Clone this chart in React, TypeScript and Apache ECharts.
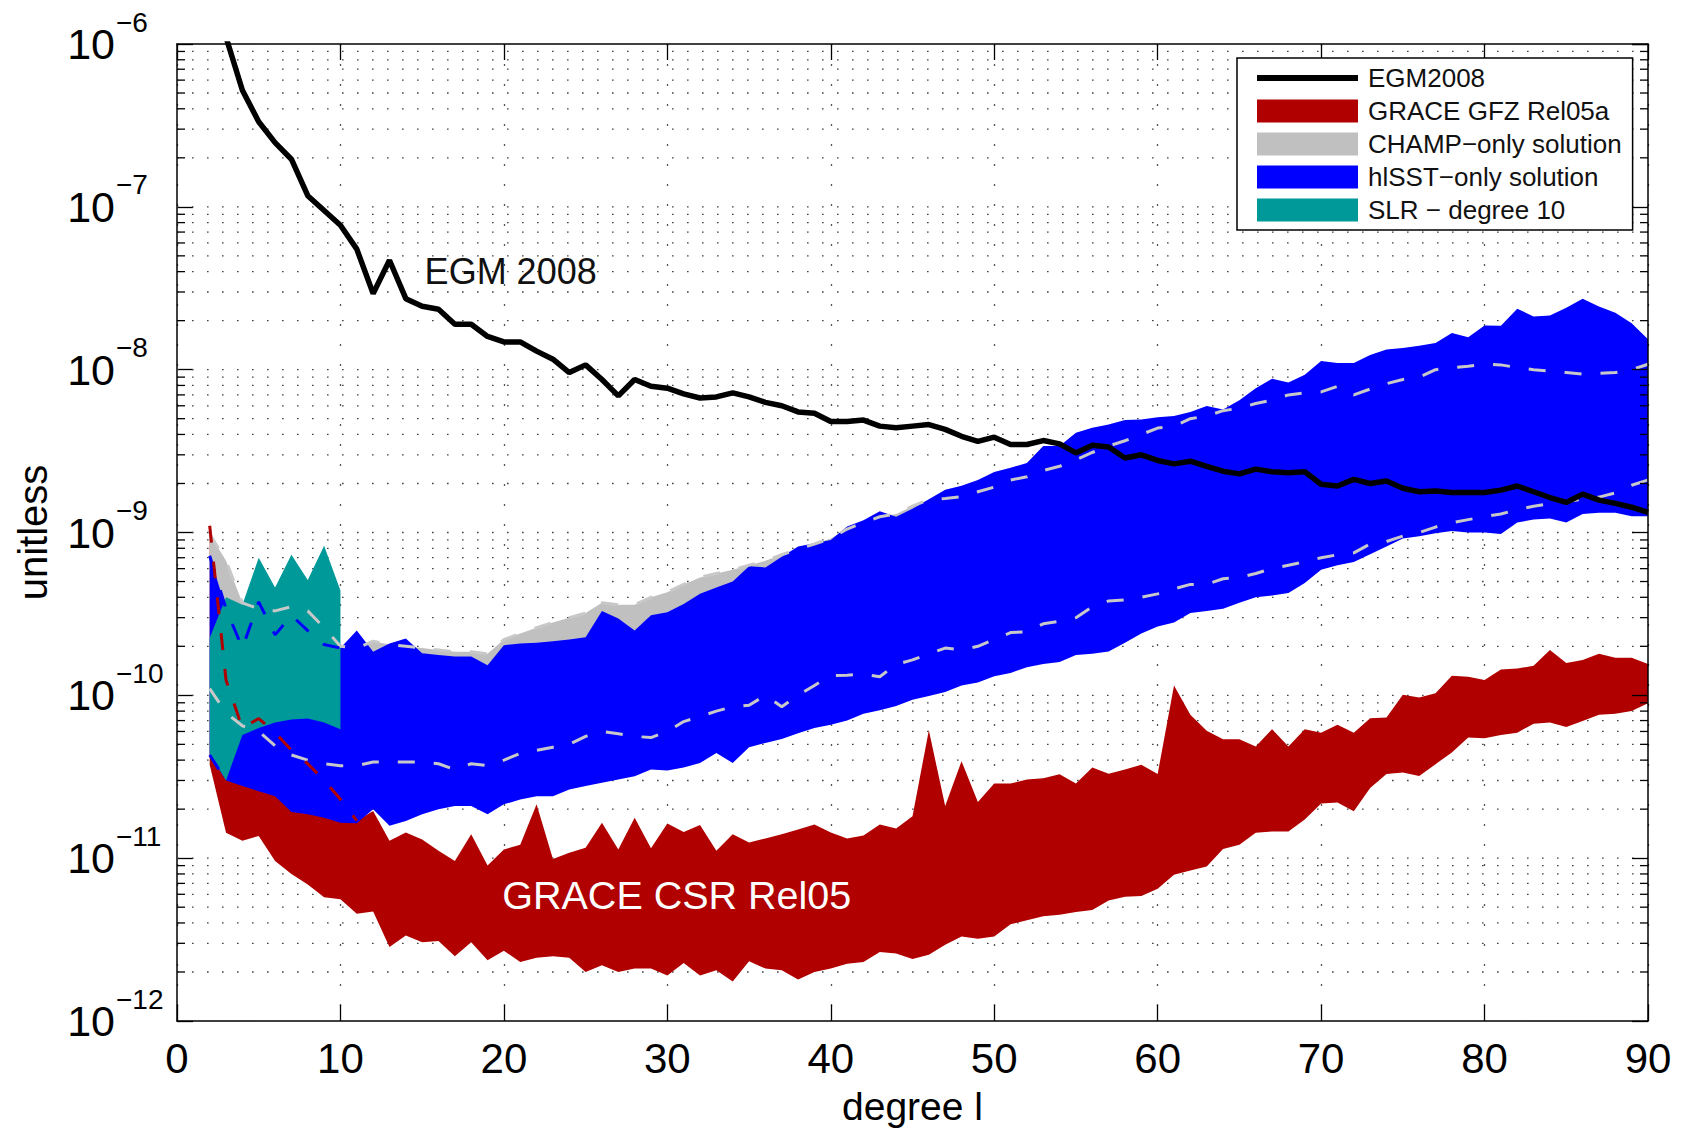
import React, { useEffect, useRef } from 'react';
import * as echarts from 'echarts';

const FONT = "'Liberation Sans', Arial, Helvetica, sans-serif";

// spherical harmonic degree l = 2 .. 90
const degrees: number[] = [];
for (let l = 2; l <= 90; l++) degrees.push(l);
const slrDegrees = [2, 3, 4, 5, 6, 7, 8, 9, 10];

const xTickValues = [0, 10, 20, 30, 40, 50, 60, 70, 80, 90];
const yDecades = [-12, -11, -10, -9, -8, -7, -6];

const egm2008 = [
  2.0e-6, 1.1e-6, 5.2e-7, 3.33e-7, 2.48e-7, 1.96e-7, 1.17e-7, 9.5e-8, 7.7e-8, 5.5e-8,
  2.93e-8, 4.7e-8, 2.73e-8, 2.45e-8, 2.35e-8, 1.9e-8, 1.9e-8, 1.6e-8, 1.48e-8, 1.48e-8,
  1.3e-8, 1.16e-8, 9.6e-9, 1.07e-8, 8.7e-9, 6.9e-9, 8.7e-9, 7.9e-9, 7.7e-9, 7.1e-9,
  6.7e-9, 6.8e-9, 7.2e-9, 6.8e-9, 6.3e-9, 6.0e-9, 5.5e-9, 5.4e-9, 4.8e-9, 4.8e-9,
  4.9e-9, 4.5e-9, 4.4e-9, 4.5e-9, 4.6e-9, 4.3e-9, 3.9e-9, 3.63e-9, 3.85e-9, 3.47e-9,
  3.47e-9, 3.67e-9, 3.5e-9, 3.08e-9, 3.43e-9, 3.35e-9, 2.87e-9, 3.0e-9, 2.77e-9, 2.64e-9,
  2.74e-9, 2.55e-9, 2.38e-9, 2.29e-9, 2.45e-9, 2.36e-9, 2.33e-9, 2.36e-9, 1.98e-9, 1.93e-9,
  2.12e-9, 2.0e-9, 2.07e-9, 1.87e-9, 1.78e-9, 1.8e-9, 1.76e-9, 1.76e-9, 1.76e-9, 1.82e-9,
  1.93e-9, 1.78e-9, 1.64e-9, 1.53e-9, 1.72e-9, 1.58e-9, 1.51e-9, 1.43e-9, 1.33e-9,
];

const hlsstUpper = [
  7.2e-10, 3.4e-10, 1.95e-10, 3.75e-10, 2.35e-10, 3.1e-10, 2.5e-10, 2.05e-10, 1.95e-10, 2.5e-10,
  1.85e-10, 2.08e-10, 2.23e-10, 1.81e-10, 1.77e-10, 1.73e-10, 1.73e-10, 1.53e-10, 2.03e-10, 2.08e-10,
  2.1e-10, 2.15e-10, 2.2e-10, 2.27e-10, 3.3e-10, 2.96e-10, 2.5e-10, 3.1e-10, 3.24e-10, 3.64e-10,
  4.2e-10, 4.6e-10, 5.0e-10, 6.2e-10, 6.1e-10, 7.1e-10, 8.2e-10, 8.6e-10, 9.0e-10, 1.09e-9,
  1.19e-9, 1.35e-9, 1.25e-9, 1.4e-9, 1.6e-9, 1.83e-9, 1.94e-9, 2.1e-9, 2.35e-9, 2.5e-9,
  2.67e-9, 3.4e-9, 3.4e-9, 4.1e-9, 4.4e-9, 4.6e-9, 4.9e-9, 4.95e-9, 5.1e-9, 5.2e-9,
  5.5e-9, 5.98e-9, 5.7e-9, 6.5e-9, 7.7e-9, 8.8e-9, 8.35e-9, 9.3e-9, 1.13e-8, 1.1e-8,
  1.1e-8, 1.23e-8, 1.33e-8, 1.36e-8, 1.4e-8, 1.46e-8, 1.68e-8, 1.58e-8, 1.87e-8, 1.86e-8,
  2.37e-8, 2.12e-8, 2.15e-8, 2.4e-8, 2.73e-8, 2.44e-8, 2.24e-8, 1.93e-8, 1.54e-8,
];

const hlsstLower = [
  4.3e-11, 3.0e-11, 2.77e-11, 2.58e-11, 2.4e-11, 1.92e-11, 1.86e-11, 1.77e-11, 1.65e-11, 1.64e-11,
  2.0e-11, 1.58e-11, 1.69e-11, 1.86e-11, 2.0e-11, 2.09e-11, 2.09e-11, 1.86e-11, 2.14e-11, 2.29e-11,
  2.4e-11, 2.4e-11, 2.64e-11, 2.77e-11, 2.9e-11, 3.04e-11, 3.18e-11, 3.5e-11, 3.45e-11, 3.6e-11,
  3.84e-11, 4.43e-11, 3.84e-11, 4.8e-11, 5.1e-11, 5.4e-11, 5.85e-11, 6.3e-11, 6.6e-11, 7.0e-11,
  7.7e-11, 8.1e-11, 8.6e-11, 9.4e-11, 9.9e-11, 1.05e-10, 1.15e-10, 1.2e-10, 1.31e-10, 1.37e-10,
  1.49e-10, 1.56e-10, 1.6e-10, 1.77e-10, 1.8e-10, 1.86e-10, 2.1e-10, 2.4e-10, 2.65e-10, 2.8e-10,
  3.2e-10, 3.3e-10, 3.4e-10, 3.7e-10, 4.0e-10, 4.1e-10, 4.25e-10, 4.9e-10, 5.9e-10, 6.3e-10,
  6.6e-10, 7.35e-10, 8.2e-10, 9.2e-10, 9.5e-10, 9.9e-10, 1.02e-9, 1.0e-9, 1.0e-9, 9.8e-10,
  1.15e-9, 1.2e-9, 1.22e-9, 1.15e-9, 1.3e-9, 1.32e-9, 1.32e-9, 1.26e-9, 1.26e-9,
];

const graceUpper = [
  1.1e-9, 1.24e-10, 6.3e-11, 7.2e-11, 5.9e-11, 4.6e-11, 3.8e-11, 3.0e-11, 2.3e-11, 1.7e-11,
  1.95e-11, 1.28e-11, 1.44e-11, 1.3e-11, 1.11e-11, 9.6e-12, 1.4e-11, 9.0e-12, 1.13e-11, 1.21e-11,
  2.14e-11, 9.9e-12, 1.08e-11, 1.16e-11, 1.65e-11, 1.13e-11, 1.77e-11, 1.15e-11, 1.63e-11, 1.45e-11,
  1.6e-11, 1.11e-11, 1.4e-11, 1.25e-11, 1.32e-11, 1.4e-11, 1.5e-11, 1.61e-11, 1.44e-11, 1.32e-11,
  1.38e-11, 1.61e-11, 1.52e-11, 1.81e-11, 6.1e-11, 2.09e-11, 3.94e-11, 2.21e-11, 2.87e-11, 2.87e-11,
  3.04e-11, 3.1e-11, 3.28e-11, 2.87e-11, 3.6e-11, 3.3e-11, 3.5e-11, 3.75e-11, 3.29e-11, 1.15e-10,
  7.6e-11, 6.07e-11, 5.37e-11, 5.37e-11, 4.85e-11, 6.2e-11, 4.85e-11, 6.2e-11, 5.9e-11, 6.6e-11,
  5.9e-11, 7.24e-11, 7.3e-11, 1.01e-10, 9.7e-11, 1.03e-10, 1.32e-10, 1.3e-10, 1.24e-10, 1.44e-10,
  1.46e-10, 1.52e-10, 1.9e-10, 1.58e-10, 1.65e-10, 1.8e-10, 1.7e-10, 1.7e-10, 1.56e-10,
];

const graceLower = [
  3.75e-11, 1.43e-11, 1.28e-11, 1.37e-11, 9.6e-12, 8.0e-12, 6.9e-12, 5.75e-12, 5.6e-12, 4.55e-12,
  4.7e-12, 2.85e-12, 3.35e-12, 3.05e-12, 3.1e-12, 2.5e-12, 3.05e-12, 2.36e-12, 2.7e-12, 2.3e-12,
  2.45e-12, 2.5e-12, 2.45e-12, 2.0e-12, 2.2e-12, 2.0e-12, 2.1e-12, 2.1e-12, 1.9e-12, 2.27e-12,
  1.9e-12, 2.05e-12, 1.75e-12, 2.33e-12, 2.1e-12, 2.05e-12, 1.8e-12, 2.0e-12, 2.1e-12, 2.25e-12,
  2.3e-12, 2.65e-12, 2.6e-12, 2.4e-12, 2.55e-12, 2.94e-12, 3.3e-12, 3.2e-12, 3.3e-12, 3.93e-12,
  4.16e-12, 4.4e-12, 4.5e-12, 4.67e-12, 4.8e-12, 5.5e-12, 5.8e-12, 5.85e-12, 6.5e-12, 7.9e-12,
  8.4e-12, 8.9e-12, 1.14e-11, 1.21e-11, 1.43e-11, 1.46e-11, 1.46e-11, 1.73e-11, 2.17e-11, 2.2e-11,
  1.94e-11, 2.7e-11, 3.29e-11, 3.36e-11, 3.2e-11, 3.78e-11, 4.46e-11, 5.5e-11, 5.45e-11, 5.7e-11,
  5.9e-11, 6.7e-11, 6.8e-11, 6.4e-11, 6.96e-11, 7.6e-11, 7.7e-11, 8.0e-11, 8.95e-11,
];

const champUpper = [
  9.8e-10, 6.7e-10, 3.7e-10, 3.4e-10, 3.3e-10, 3.5e-10, 3.3e-10, 2.6e-10, 2.0e-10, 1.95e-10,
  2.15e-10, 2.05e-10, 2.0e-10, 1.95e-10, 1.9e-10, 1.85e-10, 1.85e-10, 1.8e-10, 2.2e-10, 2.4e-10,
  2.6e-10, 2.8e-10, 3.0e-10, 3.2e-10, 3.7e-10, 3.6e-10, 3.6e-10, 4.0e-10, 4.3e-10, 4.8e-10,
  5.3e-10, 5.6e-10, 5.9e-10, 6.3e-10, 6.7e-10, 7.3e-10, 7.9e-10, 8.5e-10, 9.2e-10, 1.05e-9,
  1.15e-9, 1.25e-9, 1.3e-9, 1.45e-9, 1.59e-9, 1.62e-9, 1.66e-9, 1.78e-9, 1.9e-9, 2.1e-9,
  2.2e-9, 2.4e-9, 2.55e-9, 2.8e-9, 3.1e-9, 3.4e-9, 3.66e-9, 4.0e-9, 4.38e-9, 4.5e-9,
  5.0e-9, 5.2e-9, 5.6e-9, 5.8e-9, 6.2e-9, 6.5e-9, 7.0e-9, 7.2e-9, 7.3e-9, 7.9e-9,
  7.0e-9, 7.6e-9, 8.2e-9, 8.7e-9, 9.0e-9, 1.0e-8, 1.03e-8, 1.05e-8, 1.08e-8, 1.07e-8,
  1.03e-8, 1.0e-8, 9.8e-9, 9.6e-9, 9.4e-9, 9.5e-9, 9.6e-9, 1.0e-8, 1.08e-8,
];

const champLower = [
  1.1e-10, 7.8e-11, 6.5e-11, 6.0e-11, 4.9e-11, 4.3e-11, 4.0e-11, 3.8e-11, 3.7e-11, 3.7e-11,
  3.9e-11, 3.9e-11, 3.9e-11, 3.9e-11, 3.8e-11, 3.5e-11, 3.8e-11, 3.7e-11, 4.0e-11, 4.4e-11,
  4.6e-11, 4.8e-11, 5.0e-11, 5.6e-11, 6.0e-11, 5.8e-11, 5.6e-11, 5.5e-11, 6.0e-11, 6.9e-11,
  7.4e-11, 8.0e-11, 8.5e-11, 8.7e-11, 1.0e-10, 8.5e-11, 1.0e-10, 1.15e-10, 1.32e-10, 1.33e-10,
  1.35e-10, 1.3e-10, 1.55e-10, 1.65e-10, 1.8e-10, 1.95e-10, 1.9e-10, 2.0e-10, 2.2e-10, 2.43e-10,
  2.45e-10, 2.75e-10, 2.85e-10, 3.0e-10, 3.5e-10, 3.8e-10, 3.86e-10, 4.0e-10, 4.2e-10, 4.5e-10,
  4.8e-10, 4.8e-10, 5.2e-10, 5.3e-10, 5.6e-10, 6.0e-10, 6.3e-10, 6.6e-10, 7.0e-10, 7.3e-10,
  7.5e-10, 8.5e-10, 8.8e-10, 9.5e-10, 1.0e-9, 1.08e-9, 1.15e-9, 1.2e-9, 1.25e-9, 1.3e-9,
  1.38e-9, 1.45e-9, 1.5e-9, 1.55e-9, 1.6e-9, 1.65e-9, 1.75e-9, 1.95e-9, 2.1e-9,
];

const slrUpper = [2.25e-10, 4.0e-10, 3.6e-10, 7.0e-10, 4.6e-10, 7.3e-10, 5.1e-10, 8.3e-10, 4.4e-10];
const slrLower = [4.4e-11, 3.0e-11, 5.7e-11, 6.3e-11, 6.8e-11, 7.1e-11, 7.2e-11, 6.8e-11, 6.2e-11];

const legendNames = [
  'EGM2008',
  'GRACE GFZ Rel05a',
  'CHAMP\u2212only solution',
  'hlSST\u2212only solution',
  'SLR \u2212 degree 10',
];

const COLORS = {
  egm: '#000000',
  grace: '#b00000',
  champ: '#c0c0c0',
  hlsst: '#0000ff',
  slr: '#009999',
  dashGrey: '#c8c8c8',
};

function pairs(xs: number[], ys: number[]) {
  return xs.map((x, i) => [x, ys[i]]);
}

function bandSeries(name: string, xs: number[], lo: number[], hi: number[], color: string, z: number) {
  return {
    name,
    type: 'custom',
    coordinateSystem: 'cartesian2d',
    xAxisIndex: 0,
    yAxisIndex: 0,
    z,
    silent: true,
    itemStyle: { color },
    data: xs.map((x, i) => [x, lo[i], hi[i]]),
    encode: { x: 0, y: [1, 2] },
    renderItem: (params: any, api: any) => {
      if (params.dataIndex !== 0) return null;
      const pts: number[][] = [];
      for (let i = 0; i < xs.length; i++) pts.push(api.coord([xs[i], hi[i]]));
      for (let i = xs.length - 1; i >= 0; i--) pts.push(api.coord([xs[i], lo[i]]));
      return { type: 'polygon', shape: { points: pts }, style: { fill: color } };
    },
  };
}

function dashedSeries(name: string, xs: number[], ys: number[], color: string, z: number) {
  return {
    name,
    type: 'line',
    xAxisIndex: 0,
    yAxisIndex: 0,
    z,
    silent: true,
    symbol: 'none',
    data: pairs(xs, ys),
    lineStyle: { color, width: 3, type: [17, 19] },
  };
}

// horizontal grid values at 1..9 x 10^n (log-axis minor positions)
const gridValues: number[][] = [];
for (let e = yDecades[0]; e < yDecades[yDecades.length - 1]; e++) {
  for (let m = 1; m <= 9; m++) gridValues.push([m, m * Math.pow(10, e)]);
}

const exponentText = (v: number) => {
  const e = Math.round(Math.log10(v));
  return `${e < 0 ? '\u2212' : ''}${Math.abs(e)}`;
};

export default function App() {
  const ref = useRef<HTMLDivElement>(null);

  useEffect(() => {
    if (!ref.current) return;
    const chart = echarts.init(ref.current, null, { renderer: 'svg' });

    const axisLineStyle = { color: '#000', width: 1.5 };
    const tickStyle = { color: '#000', width: 1.3 };
    const yMin = Math.pow(10, yDecades[0]);
    const yMax = Math.pow(10, yDecades[yDecades.length - 1]);

    const option: any = {
      animation: false,
      backgroundColor: '#ffffff',
      grid: { left: 177, top: 41, width: 1471, height: 982, containLabel: false },
      xAxis: [
        {
          type: 'value',
          position: 'bottom',
          min: xTickValues[0],
          max: xTickValues[xTickValues.length - 1],
          interval: 10,
          name: 'degree l',
          nameLocation: 'middle',
          nameGap: 66,
          nameTextStyle: { fontSize: 39, fontFamily: FONT, color: '#000' },
          axisLine: { show: true, onZero: false, lineStyle: axisLineStyle },
          axisTick: { show: true, inside: true, length: 16, lineStyle: tickStyle },
          axisLabel: { fontSize: 42, fontFamily: FONT, color: '#000', margin: 16 },
          splitLine: { show: true, lineStyle: { color: '#555', width: 1.3, type: [2, 18] } },
        },
        {
          type: 'value',
          position: 'top',
          min: xTickValues[0],
          max: xTickValues[xTickValues.length - 1],
          interval: 10,
          z: 10,
          axisLine: { show: true, onZero: false, lineStyle: axisLineStyle },
          axisTick: { show: true, inside: true, length: 16, lineStyle: tickStyle },
          axisLabel: { show: false },
          splitLine: { show: false },
        },
      ],
      yAxis: [
        {
          type: 'log',
          logBase: 10,
          position: 'left',
          min: yMin,
          max: yMax,
          splitNumber: 6,
          name: 'unitless',
          nameLocation: 'middle',
          nameRotate: 90,
          nameGap: 124,
          nameTextStyle: { fontSize: 40, fontFamily: FONT, color: '#000' },
          axisLine: { show: true, onZero: false, lineStyle: axisLineStyle },
          axisTick: { show: true, inside: true, length: 16, lineStyle: tickStyle },
          splitLine: { show: false },
          axisLabel: {
            margin: 62,
            align: 'right',
            verticalAlign: 'middle',
            fontSize: 43,
            fontFamily: FONT,
            color: '#000',
            formatter: () => '10',
          },
        },
        {
          type: 'log',
          logBase: 10,
          position: 'right',
          min: yMin,
          max: yMax,
          splitNumber: 6,
          z: 10,
          axisLine: { show: true, onZero: false, lineStyle: axisLineStyle },
          axisTick: { show: true, inside: true, length: 16, lineStyle: tickStyle },
          axisLabel: { show: false },
          splitLine: { show: false },
        },
        {
          // exponent part of the 10^n tick labels (superscript)
          type: 'log',
          logBase: 10,
          position: 'left',
          min: yMin,
          max: yMax,
          splitNumber: 6,
          axisLine: { show: false },
          axisTick: { show: false },
          splitLine: { show: false },
          axisLabel: {
            margin: 61,
            align: 'left',
            verticalAlign: 'bottom',
            lineHeight: 44,
            fontSize: 28,
            fontFamily: FONT,
            color: '#000',
            formatter: exponentText,
          },
        },
      ],
      legend: {
        orient: 'vertical',
        left: 1237,
        top: 58,
        padding: [7, 11, 7, 20],
        itemGap: 7,
        itemWidth: 101,
        itemHeight: 23,
        backgroundColor: '#ffffff',
        borderColor: '#000',
        borderWidth: 1.5,
        selectedMode: false,
        z: 30,
        textStyle: { fontSize: 26, fontFamily: FONT, color: '#111', lineHeight: 23, padding: [0, 0, 0, 5] },
        data: [
          { name: legendNames[0], icon: 'path://M0,0H100V6H0Z' },
          { name: legendNames[1], icon: 'rect' },
          { name: legendNames[2], icon: 'rect' },
          { name: legendNames[3], icon: 'rect' },
          { name: legendNames[4], icon: 'rect' },
        ],
      },
      series: [
        {
          name: 'grid',
          type: 'custom',
          xAxisIndex: 0,
          yAxisIndex: 0,
          z: 1,
          silent: true,
          data: gridValues,
          encode: { x: 0, y: 1 },
          renderItem: (params: any, api: any) => {
            const m = api.value(0);
            const v = api.value(1);
            const p0 = api.coord([xTickValues[0], v]);
            const p1 = api.coord([xTickValues[xTickValues.length - 1], v]);
            const children: any[] = [];
            if (!(m === 1 && Math.round(Math.log10(v)) === yDecades[0])) {
              children.push({
                type: 'line',
                shape: { x1: p0[0], y1: p0[1], x2: p1[0], y2: p1[1] },
                style: { stroke: '#444', lineWidth: 1.3, lineDash: [1.6, 13.4] },
              });
            }
            return { type: 'group', children };
          },
        },
        bandSeries(legendNames[1], degrees, graceLower, graceUpper, COLORS.grace, 2),
        bandSeries(legendNames[2], degrees, champLower, champUpper, COLORS.champ, 3),
        bandSeries(legendNames[3], degrees, hlsstLower, hlsstUpper, COLORS.hlsst, 4),
        bandSeries(legendNames[4], slrDegrees, slrLower, slrUpper, COLORS.slr, 5),
        dashedSeries('CHAMP upper bound', degrees, champUpper, COLORS.dashGrey, 6),
        dashedSeries('CHAMP lower bound', degrees, champLower, COLORS.dashGrey, 6),
        dashedSeries('hlSST upper bound', slrDegrees, hlsstUpper.slice(0, 9), COLORS.hlsst, 6),
        dashedSeries('hlSST lower bound', [2, 3], hlsstLower.slice(0, 2), COLORS.hlsst, 6),
        dashedSeries('GRACE upper bound', degrees.slice(0, 10), graceUpper.slice(0, 10), COLORS.grace, 6),
        {
          name: legendNames[0],
          type: 'line',
          xAxisIndex: 0,
          yAxisIndex: 0,
          z: 7,
          silent: true,
          symbol: 'none',
          color: COLORS.egm,
          itemStyle: { color: COLORS.egm },
          lineStyle: { color: COLORS.egm, width: 5.5 },
          data: pairs(degrees, egm2008),
        },
        {
          name: 'minor ticks',
          type: 'custom',
          xAxisIndex: 0,
          yAxisIndex: 0,
          z: 9,
          silent: true,
          data: gridValues,
          encode: { x: 0, y: 1 },
          renderItem: (params: any, api: any) => {
            const m = api.value(0);
            if (m === 1) return null;
            const v = api.value(1);
            const p0 = api.coord([xTickValues[0], v]);
            const p1 = api.coord([xTickValues[xTickValues.length - 1], v]);
            return {
              type: 'group',
              children: [
                { type: 'line', shape: { x1: p0[0], y1: p0[1], x2: p0[0] + 8, y2: p0[1] }, style: { stroke: '#000', lineWidth: 1.3 } },
                { type: 'line', shape: { x1: p1[0] - 8, y1: p1[1], x2: p1[0], y2: p1[1] }, style: { stroke: '#000', lineWidth: 1.3 } },
              ],
            };
          },
        },
      ],
    };

    chart.setOption(option);

    const pEgm = chart.convertToPixel({ xAxisIndex: 0, yAxisIndex: 0 }, [15.15, 3.98e-8]);
    const pGrace = chart.convertToPixel({ xAxisIndex: 0, yAxisIndex: 0 }, [19.9, 5.93e-12]);
    chart.setOption({
      graphic: [
        {
          type: 'text',
          x: pEgm[0],
          y: pEgm[1],
          z: 50,
          silent: true,
          style: { text: 'EGM 2008', fontSize: 36, fontFamily: FONT, fill: '#111', align: 'left', verticalAlign: 'middle', textAlign: 'left', textVerticalAlign: 'middle' },
        },
        {
          type: 'text',
          x: pGrace[0],
          y: pGrace[1],
          z: 50,
          silent: true,
          style: { text: 'GRACE CSR Rel05', fontSize: 39.5, fontFamily: FONT, fill: '#ffffff', align: 'left', verticalAlign: 'middle', textAlign: 'left', textVerticalAlign: 'middle' },
        },
      ],
    });

    return () => chart.dispose();
  }, []);

  return (
    <div
      ref={ref}
      style={{ position: 'absolute', left: 0, top: 0, width: 1686, height: 1131, background: '#fff' }}
    />
  );
}
